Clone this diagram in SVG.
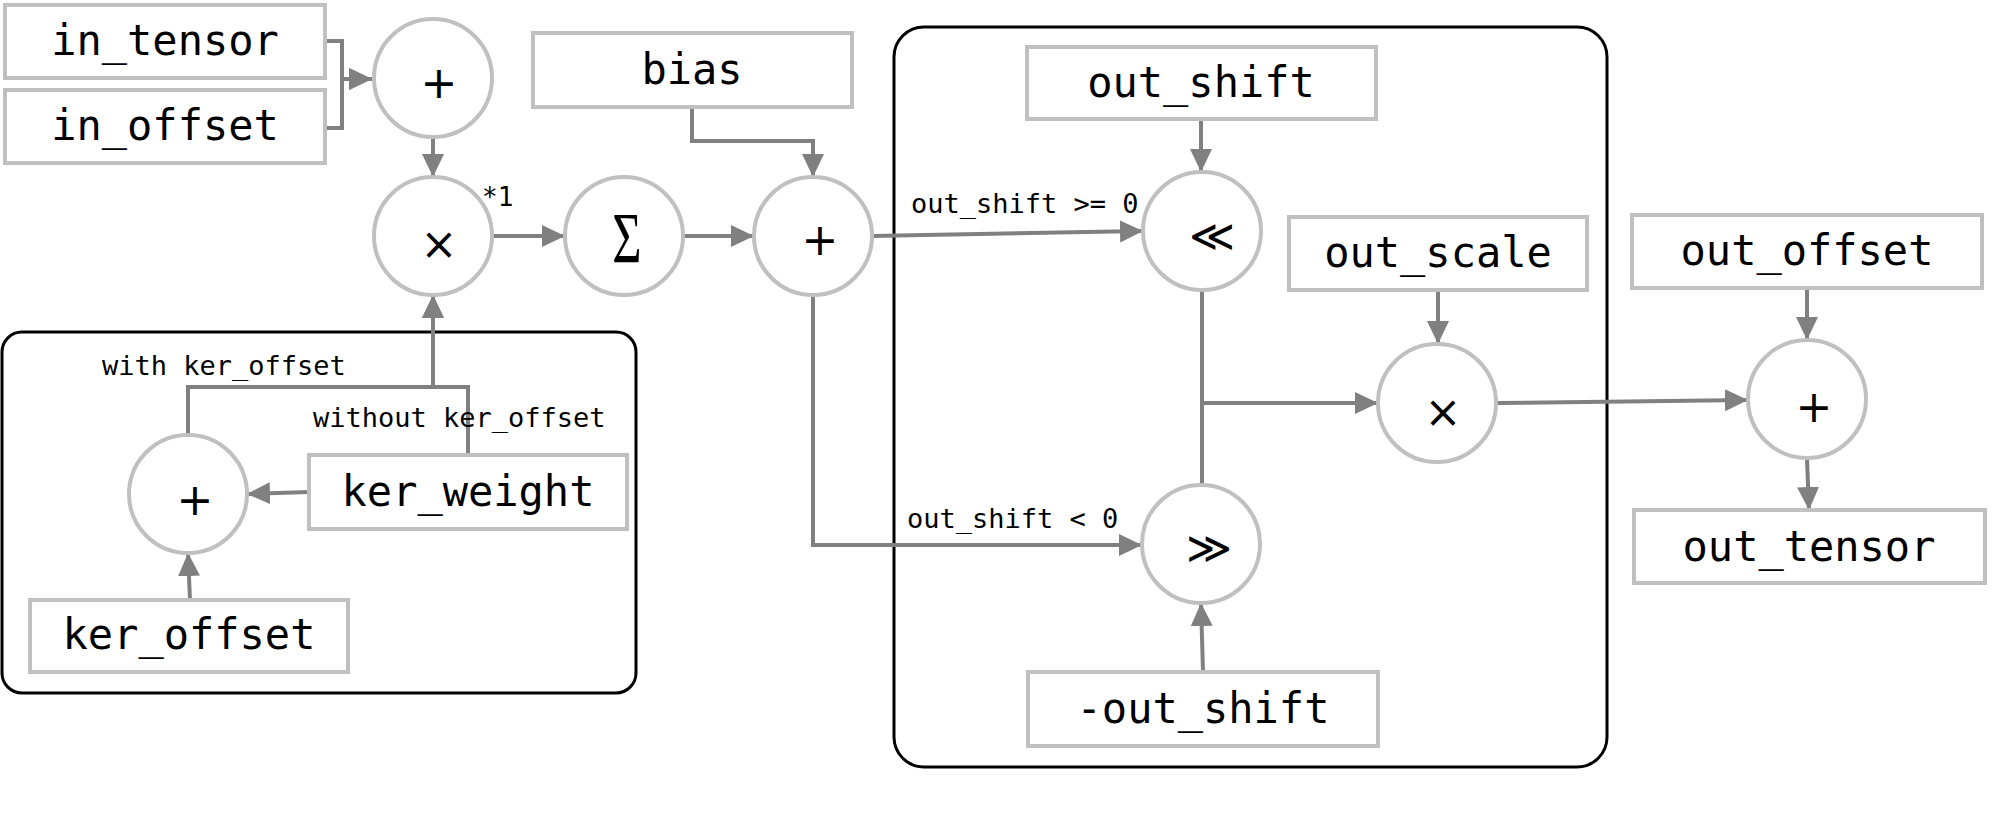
<svg xmlns="http://www.w3.org/2000/svg" width="2000" height="819" viewBox="0 0 2000 819">
<style>
.box{fill:#fff;stroke:#c0c0c0;stroke-width:4}
.op{fill:#fff;stroke:#c0c0c0;stroke-width:4}
.grp{fill:none;stroke:#000;stroke-width:3}
.lbl{font-family:"DejaVu Sans Mono",monospace;font-size:42px;fill:#000;text-anchor:middle}
.small{font-family:"DejaVu Sans Mono",monospace;font-size:27px;fill:#000}
.sym{font-family:"DejaVu Sans",sans-serif;font-size:44px;fill:#000;text-anchor:middle}
.edge{fill:none;stroke:#808080;stroke-width:4}
.edge.a{marker-end:url(#arr)}
</style>
<defs>
<marker id="arr" markerUnits="userSpaceOnUse" markerWidth="26" markerHeight="24" refX="23" refY="11" orient="auto">
<path d="M0,0 L23,11 L0,22 z" fill="#808080"/>
</marker>
</defs>
<rect class="grp" x="2" y="332" width="634" height="361" rx="20"/>
<rect class="grp" x="894" y="27" width="713" height="740" rx="30"/>
<g id="connectors">
<path class="edge a" d="M325,41 H342 V79 H372"/>
<path class="edge a" d="M325,128 H342 V79 H372"/>
<path class="edge a" d="M433,137 V177"/>
<path class="edge a" d="M492,236 H565"/>
<path class="edge a" d="M683,236 H754"/>
<path class="edge a" d="M692,107 V141 H813 V177"/>
<path class="edge a" d="M872,236 L1143,231"/>
<path class="edge a" d="M813,295 V545 H1142"/>
<path class="edge a" d="M1201,119 V172"/>
<path class="edge a" d="M1203,672 L1201,603"/>
<path class="edge a" d="M1202,290 V403 H1378"/>
<path class="edge" d="M1202,485 V403"/>
<path class="edge a" d="M1438,290 V344"/>
<path class="edge a" d="M1496,403 L1748,400"/>
<path class="edge a" d="M1807,288 V340"/>
<path class="edge a" d="M1807,458 L1809,510"/>
<path class="edge a" d="M309,492 L247,494"/>
<path class="edge a" d="M190,600 L188,553"/>
<path class="edge a" d="M188,435 V387 H433 V295"/>
<path class="edge a" d="M468,455 V387 H433 V295"/>
<text class="small" x="102" y="375">with ker_offset</text>
<text class="small" x="313" y="427">without ker_offset</text>
<text class="small" x="911" y="213">out_shift &gt;= 0</text>
<text class="small" x="907" y="528">out_shift &lt; 0</text>
</g>
<g id="in_tensor"><rect class="box" x="5" y="5" width="320" height="73"/><text class="lbl" x="165" y="55">in_tensor</text></g>
<g id="in_offset"><rect class="box" x="5" y="90" width="320" height="73"/><text class="lbl" x="165" y="140">in_offset</text></g>
<g id="bias"><rect class="box" x="533" y="33" width="319" height="74"/><text class="lbl" x="692" y="84">bias</text></g>
<g id="ker_weight"><rect class="box" x="309" y="455" width="318" height="74"/><text class="lbl" x="468" y="506">ker_weight</text></g>
<g id="ker_offset"><rect class="box" x="30" y="600" width="318" height="72"/><text class="lbl" x="189" y="649">ker_offset</text></g>
<g id="out_shift"><rect class="box" x="1027" y="47" width="349" height="72"/><text class="lbl" x="1201" y="97">out_shift</text></g>
<g id="out_scale"><rect class="box" x="1289" y="217" width="298" height="73"/><text class="lbl" x="1438" y="267">out_scale</text></g>
<g id="neg_out_shift"><rect class="box" x="1028" y="672" width="350" height="74"/><text class="lbl" x="1203" y="723">-out_shift</text></g>
<g id="out_offset"><rect class="box" x="1632" y="215" width="350" height="73"/><text class="lbl" x="1807" y="265">out_offset</text></g>
<g id="out_tensor"><rect class="box" x="1634" y="510" width="351" height="73"/><text class="lbl" x="1809" y="561">out_tensor</text></g>
<g id="add_in"><circle class="op" cx="433" cy="78" r="59"/><text class="sym" x="439" y="98">+</text></g>
<g id="mul_in"><circle class="op" cx="433" cy="236" r="59"/><text class="sym" x="439" y="259">×</text><text class="small" x="482" y="206" style="font-size:26px">*1</text></g>
<g id="sum"><circle class="op" cx="624" cy="236" r="59"/><text x="0" y="0" transform="translate(627,262) scale(0.9,1.3)" style="font-family:'Liberation Serif',serif;font-size:56px;text-anchor:middle">Σ</text></g>
<g id="add_bias"><circle class="op" cx="813" cy="236" r="59"/><text class="sym" x="820" y="255">+</text></g>
<g id="shl"><circle class="op" cx="1202" cy="231" r="59"/><text class="sym" x="1212" y="251">≪</text></g>
<g id="shr"><circle class="op" cx="1201" cy="544" r="59"/><text class="sym" x="1209" y="563">≫</text></g>
<g id="mul_scale"><circle class="op" cx="1437" cy="403" r="59"/><text class="sym" x="1443" y="427">×</text></g>
<g id="add_out"><circle class="op" cx="1807" cy="399" r="59"/><text class="sym" x="1814" y="422">+</text></g>
<g id="add_ker"><circle class="op" cx="188" cy="494" r="59"/><text class="sym" x="195" y="515">+</text></g>
</svg>
